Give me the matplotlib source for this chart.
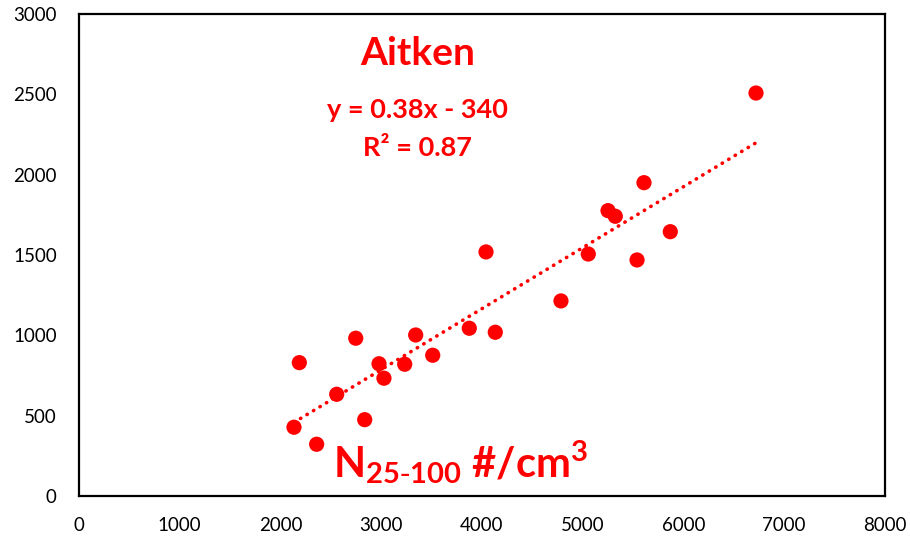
import numpy as np
import matplotlib
matplotlib.use('Agg')
from matplotlib import pyplot as plt

# N25-100 (x) vs Aitken (y)
n_25_100 = [2134, 2187, 2359, 2558, 2747, 2836, 2978, 3027, 3233, 3342, 3511,
            3874, 4040, 4132, 4784, 5055, 5251, 5323, 5539, 5608, 5869, 6720]
aitken = [428, 830, 322, 633, 982, 475, 823, 733, 820, 1002, 876,
          1044, 1519, 1019, 1214, 1506, 1776, 1741, 1469, 1950, 1645, 2508]
x_ticks = [0, 1000, 2000, 3000, 4000, 5000, 6000, 7000, 8000]
y_ticks = [0, 500, 1000, 1500, 2000, 2500, 3000]

plt.rcParams['font.family'] = ['Lato', 'DejaVu Sans']
plt.rcParams['mathtext.default'] = 'regular'

x = np.array(n_25_100)
y = np.array(aitken)
slope, icpt = np.polyfit(x, y, 1)

fig = plt.figure(figsize=(9.1, 5.48), dpi=100)
ax = fig.add_axes([0.0868, 0.0949, 0.8857, 0.8796])

xs = np.array([x.min(), x.max()])
ax.plot(xs, slope * xs + icpt, color='#ff0000', lw=2.6,
        linestyle=(0, (0.1, 2.0)), dash_capstyle='round', zorder=2)
ax.scatter(x, y, s=120, color='#ff0000', edgecolors='none', zorder=3)

ax.set_xlim(0, 8000)
ax.set_ylim(0, 3000)
ax.set_xticks(x_ticks)
ax.set_yticks(y_ticks)
ax.tick_params(length=0, labelsize=13.5)
ax.tick_params(axis='x', pad=15)
ax.tick_params(axis='y', pad=16)
for s in ax.spines.values():
    s.set_linewidth(1.6)
    s.set_color('black')

red = '#ff0000'
fig.text(0.459, 0.9015, 'Aitken', color=red, fontsize=28,
         fontweight='bold', ha='center', va='center')
fig.text(0.459, 0.7993, 'y = 0.38x - 340', color=red,
         fontsize=19.5, fontweight='bold', ha='center', va='center')
fig.text(0.459, 0.730, 'R² = 0.87', color=red,
         fontsize=19.5, fontweight='bold', ha='center', va='center')
fig.text(0.366, 0.1296, r'N$_{25\text{-}100}$ #/cm$^{3}$', color=red,
         fontsize=30, fontweight='bold', ha='left', va='baseline')

fig.savefig('out.png', dpi=100)
